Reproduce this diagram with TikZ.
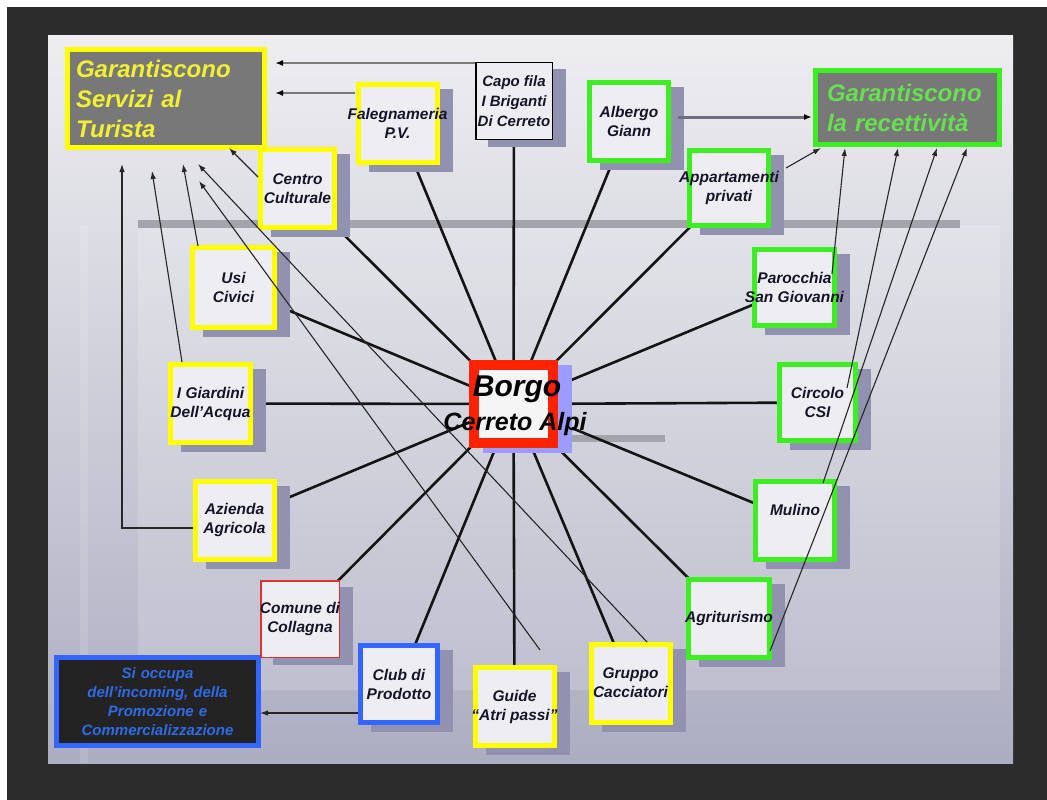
\documentclass[tikz,border=0pt]{standalone}
\usepackage{fontspec}
\setmainfont{Liberation Sans}
\usetikzlibrary{arrows.meta,shadows}
\definecolor{slideTop}{HTML}{EEEEF1}
\definecolor{slideBot}{HTML}{ADADC2}
\definecolor{frameDark}{HTML}{2C2C2C}
\definecolor{ybord}{HTML}{FFFF00}
\definecolor{gbord}{HTML}{3CEE22}
\definecolor{bbord}{HTML}{3366FF}
\definecolor{rbord}{HTML}{FF2200}
\definecolor{thinred}{HTML}{DD3333}
\definecolor{nfill}{HTML}{EEEEF2}
\definecolor{shad}{HTML}{9191B0}
\definecolor{bshad}{HTML}{9C9CFF}
\definecolor{gfill}{HTML}{787878}
\definecolor{ytext}{HTML}{F2F032}
\definecolor{gtext}{HTML}{66E050}
\definecolor{btext}{HTML}{2F6BE8}
\definecolor{dfill}{HTML}{232323}
\definecolor{ink}{HTML}{15152A}
\definecolor{barc}{HTML}{A4A4AC}
\definecolor{greyline}{HTML}{7A7A7A}
\definecolor{albline}{HTML}{6E6E7E}
\newcommand\myNodeFont{\fontsize{15.5}{19}\selectfont\bfseries\itshape}
\newcommand\myCapoFont{\fontsize{15}{20}\selectfont\bfseries\itshape}
\newcommand\myBigFont{\fontsize{24}{30}\selectfont\bfseries\itshape}
\newcommand\myBlueFont{\fontsize{15}{19}\selectfont\bfseries\itshape}
\pgfdeclarelayer{bgl}
\pgfdeclarelayer{linel}
\pgfdeclarelayer{topl}
\pgfsetlayers{bgl,linel,main,topl}
\begin{document}
\begin{tikzpicture}[x=1pt,y=-1pt,
  nodebox/.style={draw, fill=nfill, line width=5pt, minimum width=79pt, minimum height=78pt,
    inner sep=0pt, outer sep=0pt,
    drop shadow={opacity=1, fill=shad, draw=shad, shadow xshift=13pt, shadow yshift=-7pt}},
  yb/.style={nodebox, draw=ybord},
  gb/.style={nodebox, draw=gbord},
  bb/.style={nodebox, draw=bbord},
  thinbox/.style={nodebox, line width=1.5pt, minimum width=76.5pt, minimum height=76.5pt},
  lbl/.style={align=center, font=\myNodeFont, text=ink, inner sep=0pt},
  spoke/.style={line width=2.6pt, draw=black!92},
  thinarrow/.style={line width=1.1pt, draw=black!85, -{Latex[length=8pt,width=5.5pt]}},
  greyarrow/.style={line width=2pt, draw=greyline, -{Latex[length=8pt,width=6pt,color=black]}},
  albarrow/.style={line width=3pt, draw=albline, -{Latex[length=8pt,width=6pt,color=black]}}
]
\useasboundingbox (0,0) rectangle (1047,800);
\begin{pgfonlayer}{bgl}
  \fill[white] (0,0) rectangle (1047,800);
  \fill[frameDark] (7,7) rectangle (1047,800);
  \shade[top color=slideTop, bottom color=slideBot] (48,36) rectangle (1013,763);
  \fill[white, opacity=0.16] (138,225) rectangle (1000,690);
  \fill[white, opacity=0.12] (80,225) rectangle (88,763);
  \fill[barc] (138,220) rectangle (960,228);
  \fill[barc] (572,435) rectangle (665,442);
\end{pgfonlayer}

% target boxes
\node[draw=ybord, fill=gfill, line width=5pt, minimum width=197pt, minimum height=98pt,
  inner sep=0pt, text width=180pt, align=left, font=\myBigFont, text=ytext]
  (servizi) at (166,98.5) {Garantiscono\\Servizi al\\Turista};
\node[draw=gbord, fill=gfill, line width=5pt, minimum width=184pt, minimum height=74pt,
  inner sep=0pt, text width=161pt, align=left, font=\myBigFont, text=gtext]
  (recett) at (907.5,107.5) {Garantiscono\\la recettività};
\node[draw=bbord, fill=dfill, line width=5pt, minimum width=202pt, minimum height=88pt,
  inner sep=0pt, text width=195pt, align=center, font=\myBlueFont, text=btext]
  (incoming) at (157.5,701.5) {Si occupa\\dell'incoming, della\\Promozione e\\Commercializzazione};

% member nodes
\node[yb, label={[lbl]center:{Falegnameria\\P.V.}}] (fale) at (397.5,123.5) {};
\node[thinbox, draw=black, label={[lbl,font=\myCapoFont]center:{Capo fila\\I Briganti\\Di Cerreto}}] (capo) at (514,101) {};
\node[gb, label={[lbl]center:{Albergo\\Giann}}] (alb) at (629,121.5) {};
\node[gb, minimum height=75pt, label={[lbl]center:{Appartamenti\\privati}}] (app) at (729,188) {};
\node[yb, minimum width=74pt, label={[lbl]center:{Centro\\Culturale}}] (centro) at (297.5,188.5) {};
\node[yb, minimum width=82pt, minimum height=80pt, label={[lbl]center:{Usi\\Civici}}] (usi) at (233.5,287.5) {};
\node[yb, minimum width=80pt, label={[lbl]center:{I Giardini\\Dell'Acqua}}] (giard) at (210.5,403.5) {};
\node[yb, label={[lbl]center:{Azienda\\Agricola}}] (azi) at (234.5,520) {};
\node[thinbox, draw=thinred, minimum width=78.5pt, label={[lbl]center:{Comune di\\Collagna}}] (comune) at (300,619) {};
\node[bb, minimum width=77pt, minimum height=77pt, label={[lbl]center:{Club di\\Prodotto}}] (club) at (399,684) {};
\node[yb, label={[lbl]center:{Guide\\``Atri passi''}}] (guide) at (514.5,706.5) {};
\node[yb, label={[lbl]center:{Gruppo\\Cacciatori}}] (gruppo) at (630.5,683) {};
\node[gb, minimum width=81pt, label={[lbl]center:{Agriturismo}}] (agri) at (729,618.5) {};
\node[gb, label={[lbl,yshift=10pt]center:{Mulino}}] (mulino) at (795,520) {};
\node[gb, minimum width=76pt, minimum height=76pt, label={[lbl]center:{Circolo\\CSI}}] (circolo) at (817.5,402.5) {};
\node[gb, minimum width=80pt, minimum height=76pt, label={[lbl]center:{Parocchia\\San Giovanni}}] (paro) at (794.5,287.5) {};

% central node
\node[draw=rbord, fill=white!96!black, line width=10pt, minimum width=79pt, minimum height=78pt,
  inner sep=0pt, outer sep=0pt,
  drop shadow={opacity=1, fill=bshad, draw=bshad, shadow xshift=14pt, shadow yshift=-5pt}]
  (borgo) at (513.5,404) {};
\node[inner sep=0pt, font=\fontsize{30}{30}\selectfont\bfseries\itshape, text=black] (borgoA) at (517,389) {Borgo};
\node[inner sep=0pt, font=\fontsize{25}{25}\selectfont\bfseries\itshape, text=black] (borgoB) at (515,424) {Cerreto Alpi};

% spokes
\begin{pgfonlayer}{linel}
  \foreach \n in {capo,fale,alb,app,centro,usi,giard,azi,comune,club,guide,gruppo,agri,mulino,circolo,paro}
    \draw[spoke] (borgo.center) -- (\n.center);
\end{pgfonlayer}

% arrow end points
\coordinate (capoS) at (475,63);
\coordinate (serA) at (275,63);
\coordinate (faleS) at (355,93);
\coordinate (serB) at (275,93);
\coordinate (centroS) at (258,177);
\coordinate (serC) at (229,148);
\coordinate (usiS) at (198,246);
\coordinate (serD) at (183,164);
\coordinate (giardS) at (182,362);
\coordinate (serE) at (152,171);
\coordinate (aziS) at (193,528);
\coordinate (aziK) at (122,528);
\coordinate (serF) at (122,164);
\coordinate (gruppoS) at (647,642);
\coordinate (serG) at (198,164);
\coordinate (guideS) at (540,650);
\coordinate (serH) at (199,181);
\coordinate (albS) at (678,117);
\coordinate (recA) at (812,117);
\coordinate (appS) at (786,168);
\coordinate (recB) at (821,148);
\coordinate (paroS) at (832,274);
\coordinate (recC) at (845,148);
\coordinate (circS) at (847,388);
\coordinate (recD) at (898,148);
\coordinate (mulS) at (823,483);
\coordinate (recE) at (937,148);
\coordinate (agriS) at (770,651);
\coordinate (recF) at (967,148);
\coordinate (clubS) at (358,713);
\coordinate (incA) at (260,713);

\begin{pgfonlayer}{topl}
  \draw[greyarrow] (capoS) -- (serA);
  \draw[greyarrow] (faleS) -- (serB);
  \draw[thinarrow] (centroS) -- (serC);
  \draw[thinarrow] (usiS) -- (serD);
  \draw[thinarrow] (giardS) -- (serE);
  \draw[thinarrow] (aziS) -- (aziK) -- (serF);
  \draw[thinarrow] (gruppoS) -- (serG);
  \draw[thinarrow] (guideS) -- (serH);
  \draw[albarrow] (albS) -- (recA);
  \draw[thinarrow] (appS) -- (recB);
  \draw[thinarrow] (paroS) -- (recC);
  \draw[thinarrow] (circS) -- (recD);
  \draw[thinarrow] (mulS) -- (recE);
  \draw[thinarrow] (agriS) -- (recF);
  \draw[thinarrow] (clubS) -- (incA);
\end{pgfonlayer}
\end{tikzpicture}
\end{document}
